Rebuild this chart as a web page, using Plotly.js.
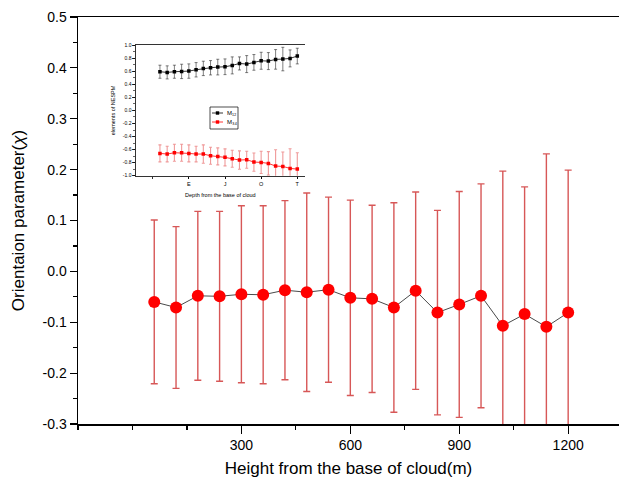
<!DOCTYPE html>
<html>
<head>
<meta charset="utf-8">
<script src="https://cdn.plot.ly/plotly-3.0.1.min.js"></script>
<style>
  html, body { margin: 0; padding: 0; background: #fff; overflow: hidden; }
  #chart { width: 619px; height: 484px; }
</style>
</head>
<body>
<div id="chart"></div>
<script>
// Heights above cloud base (m)
const heights = [60, 120, 180, 240, 300, 360, 420, 480, 540, 600,
                 660, 720, 780, 840, 900, 960, 1020, 1080, 1140, 1200];

// Orientation parameter and its spread
const chi = [-0.060, -0.071, -0.048, -0.049, -0.045, -0.046, -0.037, -0.041, -0.036, -0.052,
             -0.054, -0.071, -0.038, -0.081, -0.065, -0.048, -0.107, -0.084, -0.109, -0.081];
const chiErr = [0.161, 0.159, 0.166, 0.167, 0.174, 0.175, 0.176, 0.195, 0.182, 0.192,
                0.184, 0.206, 0.194, 0.201, 0.222, 0.220, 0.304, 0.250, 0.340, 0.280];

// Normalised phase-matrix elements (inset)
const m12 = [0.592, 0.582, 0.592, 0.597, 0.602, 0.622, 0.643, 0.653, 0.663, 0.668,
             0.689, 0.719, 0.709, 0.735, 0.760, 0.755, 0.781, 0.786, 0.796, 0.832];
const m12Err = [0.10, 0.10, 0.10, 0.11, 0.11, 0.11, 0.11, 0.11, 0.12, 0.12,
                0.13, 0.10, 0.13, 0.12, 0.13, 0.13, 0.15, 0.18, 0.13, 0.12];
const m34 = [-0.658, -0.668, -0.648, -0.648, -0.658, -0.668, -0.668, -0.694, -0.704, -0.719,
             -0.740, -0.760, -0.755, -0.791, -0.796, -0.811, -0.852, -0.857, -0.888, -0.898];
const m34Err = [0.13, 0.12, 0.13, 0.13, 0.13, 0.12, 0.14, 0.13, 0.13, 0.13,
                0.13, 0.14, 0.13, 0.14, 0.17, 0.18, 0.25, 0.22, 0.30, 0.25];

// Series names and colours of the inset
const seriesNames = ['M₁₂', 'M₃₄'];
const seriesColors = ['#000000', '#ff0000'];

// Axis ticks
const xTickVals = [300, 600, 900, 1200];
const xTickText = ['300', '600', '900', '1200'];
const yTickVals = [-0.3, -0.2, -0.1, 0.0, 0.1, 0.2, 0.3, 0.4, 0.5];
const yTickText = ['-0.3', '-0.2', '-0.1', '0.0', '0.1', '0.2', '0.3', '0.4', '0.5'];
const insetXTickText = ['E', 'J', 'O', 'T'];
const insetYTickVals = [-1.0, -0.8, -0.6, -0.4, -0.2, 0.0, 0.2, 0.4, 0.6, 0.8, 1.0];
const insetYTickText = ['-1.0', '-0.8', '-0.6', '-0.4', '-0.2', '0.0', '0.2', '0.4', '0.6', '0.8', '1.0'];

const FONT = 'Liberation Sans, Arial, sans-serif';

const traces = [
  {
    x: heights, y: chi, type: 'scatter', mode: 'lines+markers',
    line: { color: '#4a4a4a', width: 1 },
    marker: { color: '#ff0000', size: 12, line: { width: 0 } },
    error_y: { type: 'data', array: chiErr, visible: true,
               color: 'rgba(205,45,45,0.8)', thickness: 1.4, width: 3.5 }
  },
  {
    x: heights, y: m12, type: 'scatter', mode: 'lines+markers',
    xaxis: 'x2', yaxis: 'y2', name: seriesNames[0],
    line: { color: seriesColors[0], width: 0.8 },
    marker: { color: seriesColors[0], size: 3.5, symbol: 'square' },
    error_y: { type: 'data', array: m12Err, visible: true,
               color: 'rgba(40,40,40,0.75)', thickness: 0.8, width: 1.5 }
  },
  {
    x: heights, y: m34, type: 'scatter', mode: 'lines+markers',
    xaxis: 'x2', yaxis: 'y2', name: seriesNames[1],
    line: { color: seriesColors[1], width: 0.8 },
    marker: { color: seriesColors[1], size: 3.5, symbol: 'square' },
    error_y: { type: 'data', array: m34Err, visible: true,
               color: 'rgba(225,70,70,0.55)', thickness: 1.1, width: 1.5 }
  }
];

// Compact legend box for the inset, laid out in paper coordinates
const plotW = 619 - 78, plotH = 484 - 17 - 60;
const px = v => (v - 78) / plotW;          // page x -> paper x
const py = v => (484 - 60 - v) / plotH;    // page y -> paper y
const legendBox = { x0: 210, x1: 238, y0: 107, y1: 129 };
const legendRows = [113, 122];

const shapes = [{
  type: 'rect', xref: 'paper', yref: 'paper',
  x0: px(legendBox.x0), x1: px(legendBox.x1), y0: py(legendBox.y1), y1: py(legendBox.y0),
  line: { color: '#000', width: 0.7 }, fillcolor: '#fff', layer: 'above'
}];
const annotations = [];
legendRows.forEach((row, i) => {
  shapes.push({
    type: 'line', xref: 'paper', yref: 'paper',
    x0: px(212), x1: px(223), y0: py(row), y1: py(row),
    line: { color: seriesColors[i], width: 0.8 }, layer: 'above'
  });
  shapes.push({
    type: 'rect', xref: 'paper', yref: 'paper',
    x0: px(215.8), x1: px(219.2), y0: py(row + 1.7), y1: py(row - 1.7),
    line: { width: 0 }, fillcolor: seriesColors[i], layer: 'above'
  });
  annotations.push({
    xref: 'paper', yref: 'paper', x: px(225), y: py(row),
    xanchor: 'left', yanchor: 'middle', showarrow: false,
    text: seriesNames[i], font: { size: 6, family: FONT, color: '#000' }
  });
});

const layout = {
  width: 619, height: 484,
  margin: { l: 78, r: 0, t: 17, b: 60 },
  paper_bgcolor: '#fff', plot_bgcolor: 'rgba(0,0,0,0)',
  font: { family: FONT, color: '#000' },
  showlegend: false,
  shapes: shapes,
  annotations: annotations,
  xaxis: {
    range: [-150, 1340], domain: [0, 1],
    showgrid: false, zeroline: false,
    showline: true, linecolor: '#000', linewidth: 1.5, mirror: true,
    ticks: 'outside', ticklen: 8, tickwidth: 1.2, tickcolor: '#000',
    tickmode: 'array', tickvals: xTickVals, ticktext: xTickText,
    minor: { tickmode: 'linear', tick0: 0, dtick: 150, ticks: 'outside', ticklen: 4, tickwidth: 1.2, tickcolor: '#000' },
    tickfont: { size: 14, family: FONT, color: '#000' },
    title: { text: 'Height from the base of cloud(m)', font: { size: 17, family: FONT, color: '#000' }, standoff: 10 },
    automargin: false
  },
  yaxis: {
    range: [-0.3, 0.5], domain: [0, 1],
    showgrid: false, zeroline: false,
    showline: true, linecolor: '#000', linewidth: 1.5,
    ticks: 'outside', ticklen: 7, tickwidth: 1.2, tickcolor: '#000',
    tickmode: 'array', tickvals: yTickVals, ticktext: yTickText,
    minor: { tickmode: 'linear', tick0: 0, dtick: 0.05, ticks: 'outside', ticklen: 4, tickwidth: 1.2, tickcolor: '#000' },
    tickfont: { size: 14, family: FONT, color: '#000' },
    title: { text: 'Orientaion parameter(<i>χ</i>)', font: { size: 17, family: FONT, color: '#000' }, standoff: 13 },
    automargin: false
  },
  xaxis2: {
    anchor: 'y2', domain: [0.1067, 0.4196], range: [-141, 1264],
    showgrid: false, zeroline: false,
    showline: true, linecolor: '#000', linewidth: 0.8, mirror: true,
    ticks: 'outside', ticklen: 2.5, tickwidth: 0.8, tickcolor: '#000',
    tickmode: 'array', tickvals: xTickVals, ticktext: insetXTickText,
    minor: { tickmode: 'linear', tick0: 0, dtick: 300, ticks: 'outside', ticklen: 2.5, tickwidth: 0.8, tickcolor: '#000' },
    tickfont: { size: 5.5, family: FONT, color: '#000' },
    title: { text: 'Depth from the base of cloud', font: { size: 5.5, family: FONT, color: '#000' }, standoff: 7 },
    automargin: false
  },
  yaxis2: {
    anchor: 'x2', domain: [0.610, 0.931], range: [-1, 1],
    showgrid: false, zeroline: false,
    showline: true, linecolor: '#000', linewidth: 0.8,
    ticks: 'outside', ticklen: 2.5, tickwidth: 0.8, tickcolor: '#000',
    tickmode: 'array', tickvals: insetYTickVals, ticktext: insetYTickText,
    minor: { tickmode: 'linear', tick0: 0, dtick: 0.1, ticks: 'outside', ticklen: 1.5, tickwidth: 0.6, tickcolor: '#000' },
    tickfont: { size: 5, family: FONT, color: '#000' },
    title: { text: 'elements of NESPM', font: { size: 5.5, family: FONT, color: '#000' }, standoff: 6 },
    automargin: false
  }
};

Plotly.newPlot('chart', traces, layout, { displayModeBar: false, staticPlot: true });
</script>
</body>
</html>
